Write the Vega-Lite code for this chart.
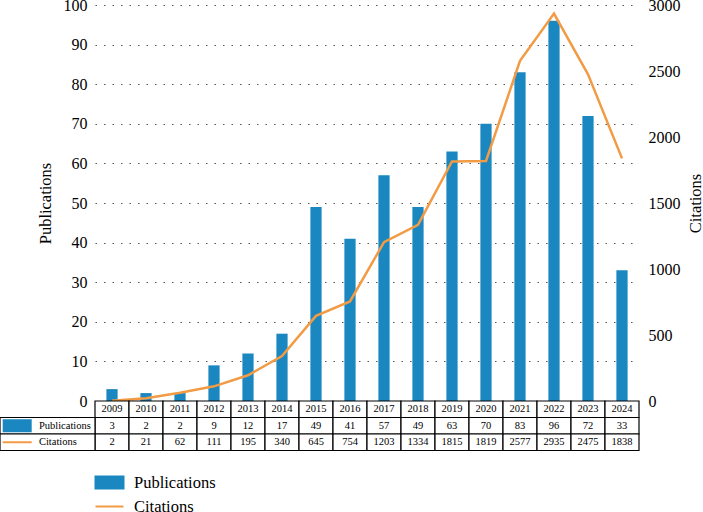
{
  "$schema": "https://vega.github.io/schema/vega-lite/v6.json",
  "width": 544,
  "height": 446,
  "autosize": {"type": "none"},
  "padding": {"left": 95, "top": 5, "right": 64, "bottom": 61},
  "config": {
    "view": {"stroke": null},
    "font": "Liberation Serif",
    "text": {"font": "Liberation Serif"},
    "axis": {
      "labelFont": "Liberation Serif",
      "titleFont": "Liberation Serif",
      "labelColor": "#000",
      "titleColor": "#000",
      "titleFontWeight": "normal",
      "labelFontSize": 16,
      "titleFontSize": 16.5,
      "ticks": false,
      "domain": false
    }
  },
  "datasets": {
    "main": [
      {"Year": "2009", "Publications": 3, "Citations": 2},
      {"Year": "2010", "Publications": 2, "Citations": 21},
      {"Year": "2011", "Publications": 2, "Citations": 62},
      {"Year": "2012", "Publications": 9, "Citations": 111},
      {"Year": "2013", "Publications": 12, "Citations": 195},
      {"Year": "2014", "Publications": 17, "Citations": 340},
      {"Year": "2015", "Publications": 49, "Citations": 645},
      {"Year": "2016", "Publications": 41, "Citations": 754},
      {"Year": "2017", "Publications": 57, "Citations": 1203},
      {"Year": "2018", "Publications": 49, "Citations": 1334},
      {"Year": "2019", "Publications": 63, "Citations": 1815},
      {"Year": "2020", "Publications": 70, "Citations": 1819},
      {"Year": "2021", "Publications": 83, "Citations": 2577},
      {"Year": "2022", "Publications": 96, "Citations": 2935},
      {"Year": "2023", "Publications": 72, "Citations": 2475},
      {"Year": "2024", "Publications": 33, "Citations": 1838}
    ],
    "labels": [
      {"row": "Publications"},
      {"row": "Citations"}
    ]
  },
  "layer": [
    {
      "data": {"name": "main"},
      "layer": [
        {
          "mark": {"type": "bar", "width": {"band": 0.33}},
          "encoding": {
            "x": {"field": "Year", "type": "ordinal", "scale": {"type": "band", "paddingInner": 0, "paddingOuter": 0}, "axis": null},
            "y": {
              "field": "Publications", "type": "quantitative",
              "scale": {"domain": [0, 100], "range": [396, 0]},
              "axis": {
                "orient": "left", "title": "Publications",
                "values": [0, 10, 20, 30, 40, 50, 60, 70, 80, 90, 100],
                "format": "d",
                "labelFont": "Liberation Serif", "labelFontSize": 16,
                "grid": true, "gridDash": [1.5, 7], "gridColor": "#555", "gridWidth": 1,
                "labelPadding": 8,
                "titleX": -50, "titleY": 198, "titleAngle": -90, "titleBaseline": "middle", "titleAlign": "center"
              }
            },
            "color": {
              "datum": "Publications", "type": "nominal",
              "scale": {"domain": ["Publications", "Citations"], "range": ["#1b87c0", "#f29b45"]},
              "legend": {
                "orient": "none", "legendX": 1, "legendY": 464, "title": null, "direction": "vertical",
                "labelFont": "Liberation Serif", "labelFontSize": 16.5, "labelColor": "#000",
                "symbolSize": 625, "labelOffset": 11, "rowPadding": 0, "padding": 0,
                "encode": {
                  "symbols": {
                    "update": {
                      "shape": [{"test": "datum.value === 'Citations'", "value": "M-1.12,0H1.12"}, {"value": "M-1.12,-0.48H1.12V0.48H-1.12Z"}],
                      "fill": [{"test": "datum.value === 'Citations'", "value": "transparent"}, {"value": "#1b87c0"}],
                      "stroke": [{"test": "datum.value === 'Citations'", "value": "#f29b45"}, {"value": "transparent"}],
                      "strokeWidth": {"value": 2},
                      "opacity": {"value": 1}
                    }
                  }
                }
              }
            }
          }
        },
        {
          "mark": {"type": "line", "strokeWidth": 2.5},
          "encoding": {
            "x": {"field": "Year", "type": "ordinal", "scale": {"type": "band", "paddingInner": 0, "paddingOuter": 0}, "axis": null},
            "y": {
              "field": "Citations", "type": "quantitative",
              "scale": {"domain": [0, 3000], "range": [396, 0]},
              "axis": {
                "orient": "right", "title": "Citations",
                "values": [0, 500, 1000, 1500, 2000, 2500, 3000],
                "format": "d",
                "labelFont": "Liberation Serif", "labelFontSize": 16,
                "grid": false, "labelPadding": 9,
                "titleX": 56, "titleY": 198, "titleAngle": -90, "titleBaseline": "middle", "titleAlign": "center"
              }
            },
            "color": {"datum": "Citations", "type": "nominal"}
          }
        },
        {
          "transform": [{"fold": ["Year", "Publications", "Citations"], "as": ["row", "value"]}],
          "encoding": {
            "x": {"field": "Year", "type": "ordinal", "scale": {"type": "band", "paddingInner": 0, "paddingOuter": 0}, "axis": null},
            "y": {"field": "row", "type": "nominal", "scale": {"type": "band", "domain": ["Year", "Publications", "Citations"], "range": [396, 445.5], "paddingInner": 0, "paddingOuter": 0}, "axis": null}
          },
          "layer": [
            {"mark": {"type": "rect", "fill": "white", "stroke": "black", "strokeWidth": 1.2}},
            {"mark": {"type": "text", "fontSize": 10.5, "font": "Liberation Serif", "color": "#000"}, "encoding": {"text": {"field": "value", "type": "nominal"}}}
          ]
        }
      ],
      "resolve": {"scale": {"y": "independent"}}
    },
    {
      "data": {"name": "labels"},
      "encoding": {
        "y": {"field": "row", "type": "nominal", "scale": {"type": "band", "domain": ["Year", "Publications", "Citations"], "range": [396, 445.5], "paddingInner": 0, "paddingOuter": 0}, "axis": null}
      },
      "layer": [
        {
          "mark": {"type": "rect", "fill": "white", "stroke": "black", "strokeWidth": 1.2},
          "encoding": {
            "x": {"datum": 0, "type": "quantitative", "scale": {"domain": [0, 1], "range": [-95, 0]}, "axis": null},
            "x2": {"datum": 1}
          }
        },
        {
          "transform": [{"filter": "datum.row === 'Publications'"}],
          "mark": {"type": "point", "shape": "M-1,-0.45H1V0.45H-1Z", "size": 841, "filled": true, "fill": "#1b87c0", "opacity": 1, "strokeWidth": 0},
          "encoding": {"x": {"datum": 0.181, "type": "quantitative"}}
        },
        {
          "transform": [{"filter": "datum.row === 'Citations'"}],
          "mark": {"type": "point", "shape": "M-1,0H1", "size": 841, "filled": false, "stroke": "#f29b45", "strokeWidth": 2, "opacity": 1},
          "encoding": {"x": {"datum": 0.181, "type": "quantitative"}}
        },
        {
          "mark": {"type": "text", "align": "left", "fontSize": 10.5, "font": "Liberation Serif", "color": "#000"},
          "encoding": {"x": {"datum": 0.41, "type": "quantitative"}, "text": {"field": "row", "type": "nominal"}}
        }
      ]
    }
  ],
  "resolve": {"scale": {"x": "independent", "y": "independent"}}
}
